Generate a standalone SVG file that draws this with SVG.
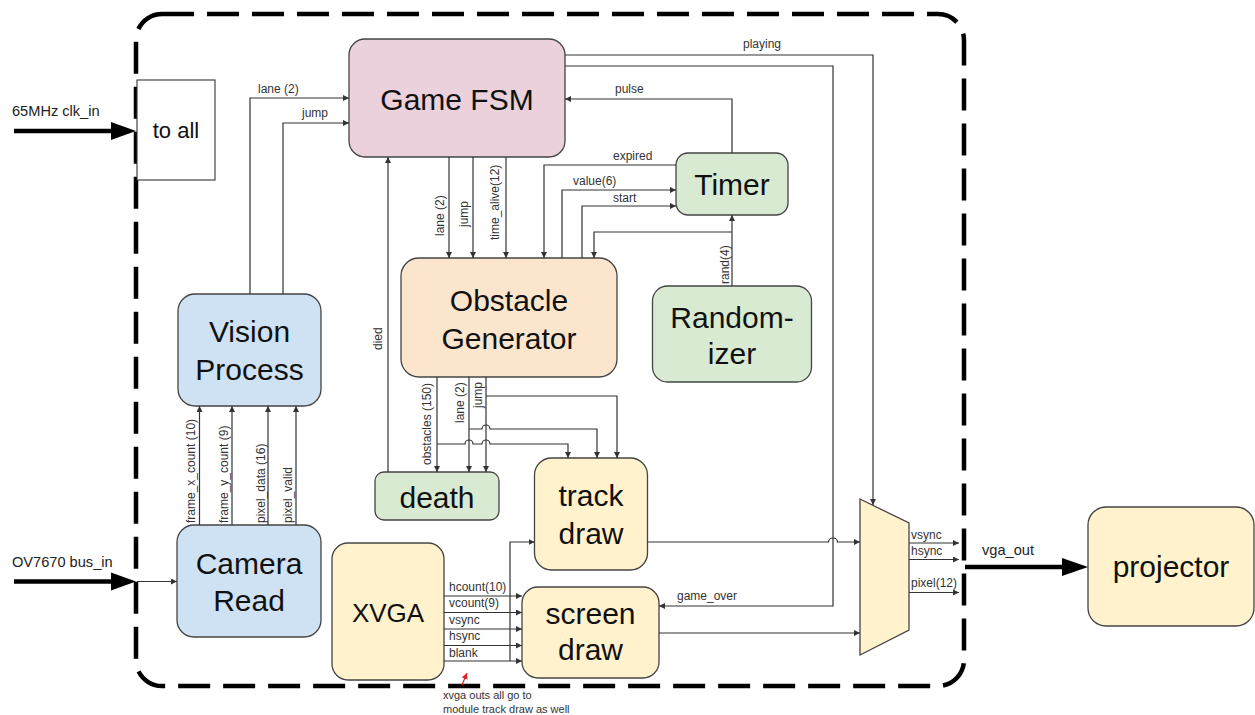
<svg xmlns="http://www.w3.org/2000/svg" width="1255" height="715" viewBox="0 0 1255 715">
  <style>
    .node { stroke: #444; stroke-width: 1.3; }
    .big { font-family: "Liberation Sans", Arial, sans-serif; font-size: 30px; fill: #111; text-anchor: middle; }
    .lbl { font-family: "Liberation Sans", Arial, sans-serif; font-size: 12px; fill: #333; }
    .io { font-family: "Liberation Sans", Arial, sans-serif; font-size: 14.6px; fill: #222; }
    .note { font-family: "Liberation Sans", Arial, sans-serif; font-size: 11px; fill: #333; }
    .wire { fill: none; stroke: #333; stroke-width: 1.2; }
    .arr { marker-end: url(#ah); }
    .thick { fill: none; stroke: #000; stroke-width: 4.5; }
    .pink { fill: #ead1dc; }
    .blue { fill: #cfe2f3; }
    .peach { fill: #fce5cd; }
    .green { fill: #d9ead3; }
    .yellow { fill: #fff2cc; }
  </style>
  <defs>
    <marker id="ah" markerUnits="userSpaceOnUse" markerWidth="8" markerHeight="8" refX="6" refY="3" orient="auto">
      <path d="M0,0 L6,3 L0,6 z" fill="#333"/>
    </marker>
    <marker id="ahRed" markerUnits="userSpaceOnUse" markerWidth="8" markerHeight="8" refX="6" refY="3" orient="auto">
      <path d="M0,0 L6,3 L0,6 z" fill="#e02020"/>
    </marker>
  </defs>

  <rect width="1255" height="715" fill="#fff"/>

  <!-- FPGA boundary -->
  <rect id="fpga-boundary" x="136" y="14" width="828" height="672" rx="26" fill="none" stroke="#000" stroke-width="4.5" stroke-dasharray="32 13"/>

  <!-- nodes -->
  <g id="to-all">
    <rect x="137" y="80" width="78" height="100" fill="#fff" stroke="#333" stroke-width="1.1"/>
    <text x="176" y="138" class="big" style="font-size:22px">to all</text>
  </g>
  <g id="game-fsm">
    <rect x="349" y="39" width="216" height="118" rx="16" class="node pink"/>
    <text x="457" y="110" class="big">Game FSM</text>
  </g>
  <g id="vision-process">
    <rect x="178" y="294" width="143" height="112" rx="17" class="node blue"/>
    <text x="249.5" y="342" class="big">Vision</text>
    <text x="249.5" y="380" class="big">Process</text>
  </g>
  <g id="camera-read">
    <rect x="177" y="525" width="144" height="112" rx="17" class="node blue"/>
    <text x="249" y="574" class="big">Camera</text>
    <text x="249" y="611" class="big">Read</text>
  </g>
  <g id="timer">
    <rect x="676" y="153" width="112" height="62" rx="12" class="node green"/>
    <text x="732" y="195" class="big">Timer</text>
  </g>
  <g id="obstacle-generator">
    <rect x="401" y="258" width="216" height="119" rx="18" class="node peach"/>
    <text x="509" y="311" class="big">Obstacle</text>
    <text x="509" y="349" class="big">Generator</text>
  </g>
  <g id="randomizer">
    <rect x="652.5" y="286" width="159" height="96" rx="15" class="node green"/>
    <text x="732" y="328" class="big">Random-</text>
    <text x="732" y="364" class="big">izer</text>
  </g>
  <g id="death">
    <rect x="375" y="472" width="124" height="48" rx="9" class="node green"/>
    <text x="437" y="508" class="big">death</text>
  </g>
  <g id="track-draw">
    <rect x="534.5" y="458" width="113" height="112" rx="17" class="node yellow"/>
    <text x="591" y="506" class="big">track</text>
    <text x="591" y="544" class="big">draw</text>
  </g>
  <g id="xvga">
    <rect x="332" y="543" width="112" height="137" rx="16" class="node yellow"/>
    <text x="388" y="622" class="big" style="font-size:26px">XVGA</text>
  </g>
  <g id="screen-draw">
    <rect x="522" y="587" width="137" height="91" rx="16" class="node yellow"/>
    <text x="590.5" y="623.5" class="big">screen</text>
    <text x="590.5" y="660" class="big">draw</text>
  </g>
  <g id="output-mux">
    <polygon points="860,499 909,523 909,630 860,655" class="node yellow"/>
  </g>
  <g id="projector">
    <rect x="1088" y="507" width="166" height="119" rx="18" class="node yellow"/>
    <text x="1171" y="577" class="big">projector</text>
  </g>

  <!-- connectors -->
  <g id="connectors">
    <!-- external inputs / output -->
    <line x1="14" y1="131" x2="113" y2="131" class="thick"/>
    <polygon points="111,122 136,131 111,140" fill="#000"/>
    <line x1="14" y1="581.5" x2="113" y2="581.5" class="thick"/>
    <polygon points="111,572.5 136,581.5 111,590.5" fill="#000"/>
    <path d="M137,581.5 H177" class="wire arr"/>
    <line x1="965" y1="567" x2="1064" y2="567" class="thick"/>
    <polygon points="1062,558 1088,567 1062,576" fill="#000"/>

    <!-- vision process to game fsm -->
    <path d="M250,294 V98 H349" class="wire arr"/>
    <path d="M283,294 V123 H349" class="wire arr"/>

    <!-- camera read to vision process -->
    <path d="M199.5,525 V406" class="wire arr"/>
    <path d="M232,525 V406" class="wire arr"/>
    <path d="M268,525 V406" class="wire arr"/>
    <path d="M296,525 V406" class="wire arr"/>

    <!-- game fsm to obstacle generator -->
    <path d="M449,157 V258" class="wire arr"/>
    <path d="M473,157 V258" class="wire arr"/>
    <path d="M506,157 V258" class="wire arr"/>

    <!-- death to game fsm -->
    <path d="M388,472 V157" class="wire arr"/>

    <!-- timer links -->
    <path d="M732,153 V99 H565" class="wire arr"/>
    <path d="M676,165 H544 V258" class="wire arr"/>
    <path d="M562,258 V190 H676" class="wire arr"/>
    <path d="M582,258 V206 H676" class="wire arr"/>
    <path d="M732,286 V215" class="wire arr"/>
    <path d="M732,232 H594 V258" class="wire arr"/>

    <!-- obstacle generator to death and track draw -->
    <path d="M437,377 V472" class="wire arr"/>
    <path d="M469,377 V472" class="wire arr"/>
    <path d="M486,377 V472" class="wire arr"/>
    <path d="M437,444 H465 a4,4 0 0 1 8,0 H482 a4,4 0 0 1 8,0 H568 V458" class="wire arr"/>
    <path d="M469,429 H482 a4,4 0 0 1 8,0 H597 V458" class="wire arr"/>
    <path d="M486,396 H617 V458" class="wire arr"/>

    <!-- game fsm to mux and screen draw -->
    <path d="M565,55 H873 V505" class="wire arr"/>
    <path d="M565,66 H833 V606 H659" class="wire arr"/>

    <!-- draw modules to mux -->
    <path d="M647.5,542 H828.5 a4.5,4 0 0 1 9,0 H860" class="wire arr"/>
    <path d="M659,633 H860" class="wire arr"/>

    <!-- mux outputs -->
    <path d="M909,543 H959" class="wire arr"/>
    <path d="M909,559.5 H959" class="wire arr"/>
    <path d="M909,592.5 H959" class="wire arr"/>

    <!-- xvga outputs -->
    <path d="M444,596 H522" class="wire arr"/>
    <path d="M444,612.5 H522" class="wire arr"/>
    <path d="M444,629 H522" class="wire arr"/>
    <path d="M444,645.5 H522" class="wire arr"/>
    <path d="M444,661 H522" class="wire arr"/>
    <path d="M510,661 V542 H534.5" class="wire arr"/>

    <!-- annotation pointer -->
    <path d="M462,685 L467,673" fill="none" stroke="#e02020" stroke-width="1.2" marker-end="url(#ahRed)"/>
  </g>

  <!-- connector labels -->
  <g id="labels">
    <text x="12" y="116" class="io">65MHz clk_in</text>
    <text x="12" y="567" class="io">OV7670 bus_in</text>
    <text x="982" y="555" class="io">vga_out</text>

    <text x="258" y="93" class="lbl">lane (2)</text>
    <text x="302" y="117" class="lbl">jump</text>
    <text x="743" y="48" class="lbl">playing</text>
    <text x="615" y="93" class="lbl">pulse</text>
    <text x="613" y="160" class="lbl">expired</text>
    <text x="573" y="185" class="lbl">value(6)</text>
    <text x="613" y="202" class="lbl">start</text>
    <text x="677" y="600" class="lbl">game_over</text>
    <text x="911" y="539" class="lbl">vsync</text>
    <text x="911" y="555" class="lbl">hsync</text>
    <text x="911" y="587" class="lbl">pixel(12)</text>
    <text x="449" y="591" class="lbl">hcount(10)</text>
    <text x="449" y="607" class="lbl">vcount(9)</text>
    <text x="449" y="623.5" class="lbl">vsync</text>
    <text x="449" y="640" class="lbl">hsync</text>
    <text x="449" y="656.5" class="lbl">blank</text>

    <text transform="translate(195,523) rotate(-90)" class="lbl">frame_x_count (10)</text>
    <text transform="translate(228,523) rotate(-90)" class="lbl">frame_y_count (9)</text>
    <text transform="translate(264.5,523) rotate(-90)" class="lbl">pixel_data (16)</text>
    <text transform="translate(292,523) rotate(-90)" class="lbl">pixel_valid</text>
    <text transform="translate(382,350) rotate(-90)" class="lbl">died</text>
    <text transform="translate(444,236) rotate(-90)" class="lbl">lane (2)</text>
    <text transform="translate(467.5,227) rotate(-90)" class="lbl">jump</text>
    <text transform="translate(499,240) rotate(-90)" class="lbl">time_alive(12)</text>
    <text transform="translate(728.5,284) rotate(-90)" class="lbl">rand(4)</text>
    <text transform="translate(431,465) rotate(-90)" class="lbl">obstacles (150)</text>
    <text transform="translate(463.5,423) rotate(-90)" class="lbl">lane (2)</text>
    <text transform="translate(481.5,408) rotate(-90)" class="lbl">jump</text>

    <text x="443" y="699" class="note">xvga outs all go to</text>
    <text x="443" y="712.5" class="note">module track draw as well</text>
  </g>
</svg>
